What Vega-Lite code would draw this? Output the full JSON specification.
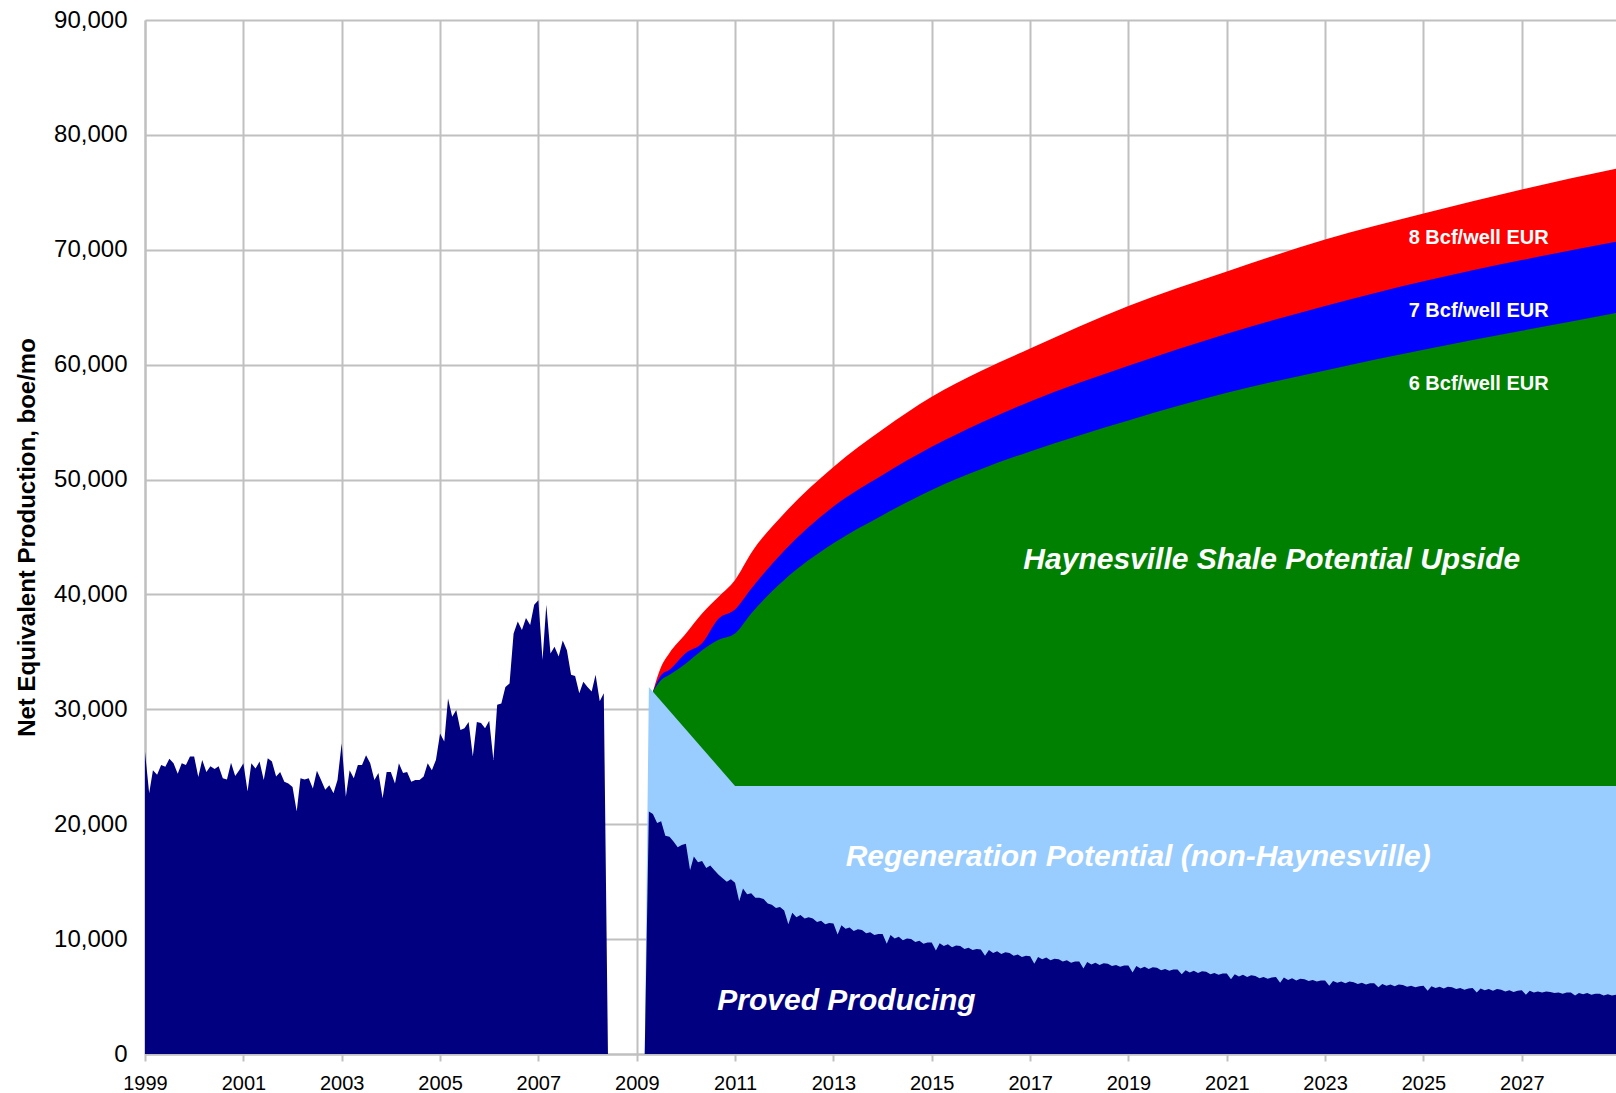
{
  "$schema": "https://vega.github.io/schema/vega-lite/v6.json",
  "width": 1471,
  "height": 1034,
  "autosize": {"type": "none"},
  "padding": {"left": 145, "top": 20, "right": 0, "bottom": 39},
  "background": "white",
  "config": {"view": {"stroke": null}, "font": "Liberation Sans"},
  "datasets": {
    "r8": [
      {"d": "2009-05", "v": 31540}, {"d": "2009-07", "v": 33700}, {"d": "2009-09", "v": 34900},
      {"d": "2010-01", "v": 36600}, {"d": "2010-05", "v": 38350}, {"d": "2010-09", "v": 39800},
      {"d": "2011-01", "v": 41250}, {"d": "2011-05", "v": 43600}, {"d": "2012-01", "v": 47050},
      {"d": "2013-01", "v": 51100}, {"d": "2014-01", "v": 54350},
      {"d": "2015-01", "v": 57200}, {"d": "2016-01", "v": 59450}, {"d": "2017-01", "v": 61400}, {"d": "2019-01", "v": 65100},
      {"d": "2021-01", "v": 68100}, {"d": "2023-01", "v": 70900}, {"d": "2025-01", "v": 73150},
      {"d": "2027-01", "v": 75250}, {"d": "2028-12", "v": 77050}
    ],
    "b7": [
      {"d": "2009-05", "v": 31540}, {"d": "2009-07", "v": 32990}, {"d": "2009-09", "v": 33450},
      {"d": "2010-01", "v": 34900}, {"d": "2010-05", "v": 35750}, {"d": "2010-09", "v": 37900},
      {"d": "2011-01", "v": 38700}, {"d": "2011-05", "v": 40500}, {"d": "2012-01", "v": 43800},
      {"d": "2013-01", "v": 47650}, {"d": "2014-01", "v": 50400},
      {"d": "2015-01", "v": 52850}, {"d": "2016-01", "v": 54950}, {"d": "2017-01", "v": 56800}, {"d": "2019-01", "v": 59900},
      {"d": "2021-01", "v": 62700}, {"d": "2023-01", "v": 65100}, {"d": "2025-01", "v": 67250},
      {"d": "2027-01", "v": 69100}, {"d": "2028-12", "v": 70700}
    ],
    "g6": [
      {"d": "2009-05", "v": 31540}, {"d": "2009-07", "v": 32550}, {"d": "2009-09", "v": 33000},
      {"d": "2010-01", "v": 34000}, {"d": "2010-05", "v": 35150}, {"d": "2010-09", "v": 36050},
      {"d": "2011-01", "v": 36600}, {"d": "2011-05", "v": 38350}, {"d": "2012-01", "v": 41250},
      {"d": "2013-01", "v": 44450}, {"d": "2014-01", "v": 46900},
      {"d": "2015-01", "v": 49100}, {"d": "2016-01", "v": 50900}, {"d": "2017-01", "v": 52450}, {"d": "2019-01", "v": 55150},
      {"d": "2021-01", "v": 57550}, {"d": "2023-01", "v": 59500}, {"d": "2025-01", "v": 61300},
      {"d": "2027-01", "v": 62950}, {"d": "2028-12", "v": 64500}
    ],
    "regen": [
      {"d": "2009-03", "v": 0}, {"d": "2009-04", "v": 31950}, {"d": "2009-05", "v": 31540},
      {"d": "2011-01", "v": 23330}, {"d": "2028-12", "v": 23330}
    ],
    "pdp": [
      {"d":"1999-01","v":26300},{"d":"1999-02","v":22700},{"d":"1999-03","v":24700},{"d":"1999-04","v":24300},{"d":"1999-05","v":25150},{"d":"1999-06","v":25000},{"d":"1999-07","v":25700},{"d":"1999-08","v":25300},{"d":"1999-09","v":24400},{"d":"1999-10","v":25300},{"d":"1999-11","v":25150},{"d":"1999-12","v":25900},
      {"d":"2000-01","v":25900},{"d":"2000-02","v":24100},{"d":"2000-03","v":25600},{"d":"2000-04","v":24550},{"d":"2000-05","v":25050},{"d":"2000-06","v":24800},{"d":"2000-07","v":25050},{"d":"2000-08","v":24000},{"d":"2000-09","v":23900},{"d":"2000-10","v":25350},{"d":"2000-11","v":24200},{"d":"2000-12","v":24700},
      {"d":"2001-01","v":25300},{"d":"2001-02","v":22850},{"d":"2001-03","v":25300},{"d":"2001-04","v":24850},{"d":"2001-05","v":25450},{"d":"2001-06","v":23850},{"d":"2001-07","v":25750},{"d":"2001-08","v":25450},{"d":"2001-09","v":24150},{"d":"2001-10","v":24550},{"d":"2001-11","v":23700},{"d":"2001-12","v":23550},
      {"d":"2002-01","v":23250},{"d":"2002-02","v":21100},{"d":"2002-03","v":24000},{"d":"2002-04","v":23900},{"d":"2002-05","v":24000},{"d":"2002-06","v":23100},{"d":"2002-07","v":24650},{"d":"2002-08","v":23850},{"d":"2002-09","v":23000},{"d":"2002-10","v":23400},{"d":"2002-11","v":22700},{"d":"2002-12","v":23850},
      {"d":"2003-01","v":27050},{"d":"2003-02","v":22400},{"d":"2003-03","v":24700},{"d":"2003-04","v":24000},{"d":"2003-05","v":25150},{"d":"2003-06","v":25150},{"d":"2003-07","v":26000},{"d":"2003-08","v":25300},{"d":"2003-09","v":23850},{"d":"2003-10","v":24450},{"d":"2003-11","v":22250},{"d":"2003-12","v":24550},
      {"d":"2004-01","v":24550},{"d":"2004-02","v":23550},{"d":"2004-03","v":25300},{"d":"2004-04","v":24450},{"d":"2004-05","v":24550},{"d":"2004-06","v":23700},{"d":"2004-07","v":23850},{"d":"2004-08","v":23850},{"d":"2004-09","v":24150},{"d":"2004-10","v":25300},{"d":"2004-11","v":24700},{"d":"2004-12","v":25600},
      {"d":"2005-01","v":27900},{"d":"2005-02","v":27200},{"d":"2005-03","v":30950},{"d":"2005-04","v":29350},{"d":"2005-05","v":29950},{"d":"2005-06","v":28200},{"d":"2005-07","v":28350},{"d":"2005-08","v":28900},{"d":"2005-09","v":25900},{"d":"2005-10","v":28900},{"d":"2005-11","v":28800},{"d":"2005-12","v":28350},
      {"d":"2006-01","v":29000},{"d":"2006-02","v":25600},{"d":"2006-03","v":30400},{"d":"2006-04","v":30500},{"d":"2006-05","v":31950},{"d":"2006-06","v":32250},{"d":"2006-07","v":36600},{"d":"2006-08","v":37650},{"d":"2006-09","v":36900},{"d":"2006-10","v":37950},{"d":"2006-11","v":37350},{"d":"2006-12","v":39100},
      {"d":"2007-01","v":39500},{"d":"2007-02","v":34300},{"d":"2007-03","v":39100},{"d":"2007-04","v":34850},{"d":"2007-05","v":35450},{"d":"2007-06","v":34600},{"d":"2007-07","v":36000},{"d":"2007-08","v":35150},{"d":"2007-09","v":33000},{"d":"2007-10","v":32900},{"d":"2007-11","v":31400},{"d":"2007-12","v":32400},
      {"d":"2008-01","v":31950},{"d":"2008-02","v":31550},{"d":"2008-03","v":33000},{"d":"2008-04","v":30700},{"d":"2008-05","v":31400},{"d":"2008-06","v":0},{"d":"2008-07","v":0},{"d":"2008-08","v":0},{"d":"2008-09","v":0},{"d":"2008-10","v":0},{"d":"2008-11","v":0},{"d":"2008-12","v":0},
      {"d":"2009-01","v":0},{"d":"2009-02","v":0},{"d":"2009-03","v":0},{"d":"2009-04","v":21100},{"d":"2009-05","v":20900},{"d":"2009-06","v":20100},{"d":"2009-07","v":20250},{"d":"2009-08","v":19000},{"d":"2009-09","v":18900},{"d":"2009-10","v":18500},{"d":"2009-11","v":18000},{"d":"2009-12","v":18200},
      {"d":"2010-01","v":18300},{"d":"2010-02","v":16000},{"d":"2010-03","v":17200},{"d":"2010-04","v":16700},{"d":"2010-05","v":16800},{"d":"2010-06","v":16200},{"d":"2010-07","v":16400},{"d":"2010-08","v":16000},{"d":"2010-09","v":15600},{"d":"2010-10","v":15300},{"d":"2010-11","v":15000},{"d":"2010-12","v":15200},
      {"d":"2011-01","v":14900},{"d":"2011-02","v":13300},{"d":"2011-03","v":14400},{"d":"2011-04","v":13900},{"d":"2011-05","v":14000},{"d":"2011-06","v":13600},{"d":"2011-07","v":13600},{"d":"2011-08","v":13500},{"d":"2011-09","v":13100},{"d":"2011-10","v":13000},{"d":"2011-11","v":12700},{"d":"2011-12","v":12800},
      {"d":"2012-01","v":12500},{"d":"2012-02","v":11300},{"d":"2012-03","v":12300},{"d":"2012-04","v":11900},{"d":"2012-05","v":12100},{"d":"2012-06","v":11800},{"d":"2012-07","v":11900},{"d":"2012-08","v":11800},{"d":"2012-09","v":11500},{"d":"2012-10","v":11600},{"d":"2012-11","v":11300},{"d":"2012-12","v":11400},
      {"d":"2013-01","v":11350},{"d":"2013-02","v":10400},{"d":"2013-03","v":11200},{"d":"2013-04","v":10900},{"d":"2013-05","v":11000},{"d":"2013-06","v":10700},{"d":"2013-07","v":10850},{"d":"2013-08","v":10800},{"d":"2013-09","v":10500},{"d":"2013-10","v":10600},{"d":"2013-11","v":10350},{"d":"2013-12","v":10450},
      {"d":"2014-01","v":10450},{"d":"2014-02","v":9600},{"d":"2014-03","v":10350},{"d":"2014-04","v":10050},{"d":"2014-05","v":10200},{"d":"2014-06","v":9900},{"d":"2014-07","v":10050},{"d":"2014-08","v":10000},{"d":"2014-09","v":9750},{"d":"2014-10","v":9850},{"d":"2014-11","v":9600},{"d":"2014-12","v":9700},
      {"d":"2015-01","v":9700},{"d":"2015-02","v":9000},{"d":"2015-03","v":9650},{"d":"2015-04","v":9400},{"d":"2015-05","v":9550},{"d":"2015-06","v":9300},{"d":"2015-07","v":9450},{"d":"2015-08","v":9400},{"d":"2015-09","v":9150},{"d":"2015-10","v":9250},{"d":"2015-11","v":9050},{"d":"2015-12","v":9150},
      {"d":"2016-01","v":9100},{"d":"2016-02","v":8550},{"d":"2016-03","v":9050},{"d":"2016-04","v":8800},{"d":"2016-05","v":8950},{"d":"2016-06","v":8700},{"d":"2016-07","v":8850},{"d":"2016-08","v":8800},{"d":"2016-09","v":8550},{"d":"2016-10","v":8650},{"d":"2016-11","v":8450},{"d":"2016-12","v":8550},
      {"d":"2017-01","v":8500},{"d":"2017-02","v":7850},{"d":"2017-03","v":8450},{"d":"2017-04","v":8250},{"d":"2017-05","v":8400},{"d":"2017-06","v":8150},{"d":"2017-07","v":8300},{"d":"2017-08","v":8250},{"d":"2017-09","v":8050},{"d":"2017-10","v":8150},{"d":"2017-11","v":7950},{"d":"2017-12","v":8050},
      {"d":"2018-01","v":8050},{"d":"2018-02","v":7450},{"d":"2018-03","v":8000},{"d":"2018-04","v":7800},{"d":"2018-05","v":7950},{"d":"2018-06","v":7750},{"d":"2018-07","v":7900},{"d":"2018-08","v":7850},{"d":"2018-09","v":7650},{"d":"2018-10","v":7750},{"d":"2018-11","v":7600},{"d":"2018-12","v":7700},
      {"d":"2019-01","v":7700},{"d":"2019-02","v":7100},{"d":"2019-03","v":7650},{"d":"2019-04","v":7450},{"d":"2019-05","v":7600},{"d":"2019-06","v":7400},{"d":"2019-07","v":7550},{"d":"2019-08","v":7500},{"d":"2019-09","v":7300},{"d":"2019-10","v":7400},{"d":"2019-11","v":7250},{"d":"2019-12","v":7350},
      {"d":"2020-01","v":7350},{"d":"2020-02","v":6950},{"d":"2020-03","v":7300},{"d":"2020-04","v":7100},{"d":"2020-05","v":7250},{"d":"2020-06","v":7050},{"d":"2020-07","v":7200},{"d":"2020-08","v":7150},{"d":"2020-09","v":6950},{"d":"2020-10","v":7050},{"d":"2020-11","v":6900},{"d":"2020-12","v":7000},
      {"d":"2021-01","v":7000},{"d":"2021-02","v":6500},{"d":"2021-03","v":6950},{"d":"2021-04","v":6750},{"d":"2021-05","v":6900},{"d":"2021-06","v":6700},{"d":"2021-07","v":6850},{"d":"2021-08","v":6800},{"d":"2021-09","v":6600},{"d":"2021-10","v":6700},{"d":"2021-11","v":6550},{"d":"2021-12","v":6650},
      {"d":"2022-01","v":6700},{"d":"2022-02","v":6200},{"d":"2022-03","v":6650},{"d":"2022-04","v":6450},{"d":"2022-05","v":6600},{"d":"2022-06","v":6400},{"d":"2022-07","v":6550},{"d":"2022-08","v":6500},{"d":"2022-09","v":6350},{"d":"2022-10","v":6450},{"d":"2022-11","v":6300},{"d":"2022-12","v":6400},
      {"d":"2023-01","v":6400},{"d":"2023-02","v":5950},{"d":"2023-03","v":6350},{"d":"2023-04","v":6200},{"d":"2023-05","v":6300},{"d":"2023-06","v":6150},{"d":"2023-07","v":6300},{"d":"2023-08","v":6250},{"d":"2023-09","v":6100},{"d":"2023-10","v":6200},{"d":"2023-11","v":6050},{"d":"2023-12","v":6150},
      {"d":"2024-01","v":6150},{"d":"2024-02","v":5800},{"d":"2024-03","v":6100},{"d":"2024-04","v":5950},{"d":"2024-05","v":6050},{"d":"2024-06","v":5900},{"d":"2024-07","v":6050},{"d":"2024-08","v":6000},{"d":"2024-09","v":5850},{"d":"2024-10","v":5950},{"d":"2024-11","v":5800},{"d":"2024-12","v":5900},
      {"d":"2025-01","v":5950},{"d":"2025-02","v":5500},{"d":"2025-03","v":5900},{"d":"2025-04","v":5750},{"d":"2025-05","v":5850},{"d":"2025-06","v":5700},{"d":"2025-07","v":5850},{"d":"2025-08","v":5800},{"d":"2025-09","v":5650},{"d":"2025-10","v":5750},{"d":"2025-11","v":5600},{"d":"2025-12","v":5700},
      {"d":"2026-01","v":5750},{"d":"2026-02","v":5350},{"d":"2026-03","v":5700},{"d":"2026-04","v":5550},{"d":"2026-05","v":5650},{"d":"2026-06","v":5500},{"d":"2026-07","v":5650},{"d":"2026-08","v":5600},{"d":"2026-09","v":5450},{"d":"2026-10","v":5550},{"d":"2026-11","v":5400},{"d":"2026-12","v":5500},
      {"d":"2027-01","v":5550},{"d":"2027-02","v":5150},{"d":"2027-03","v":5500},{"d":"2027-04","v":5350},{"d":"2027-05","v":5450},{"d":"2027-06","v":5350},{"d":"2027-07","v":5450},{"d":"2027-08","v":5400},{"d":"2027-09","v":5300},{"d":"2027-10","v":5350},{"d":"2027-11","v":5250},{"d":"2027-12","v":5350},
      {"d":"2028-01","v":5350},{"d":"2028-02","v":5100},{"d":"2028-03","v":5300},{"d":"2028-04","v":5200},{"d":"2028-05","v":5300},{"d":"2028-06","v":5150},{"d":"2028-07","v":5250},{"d":"2028-08","v":5250},{"d":"2028-09","v":5100},{"d":"2028-10","v":5200},{"d":"2028-11","v":5100},{"d":"2028-12","v":5150}
    ],
    "bigLabels": [
      {"d": "2021-12-01", "v": 43000, "label": "Haynesville Shale Potential Upside"},
      {"d": "2019-03-15", "v": 17150, "label": "Regeneration Potential (non-Haynesville)"},
      {"d": "2013-04-08", "v": 4600, "label": "Proved Producing"}
    ],
    "smallLabels": [
      {"d": "2026-02-15", "v": 71000, "label": "8 Bcf/well EUR"},
      {"d": "2026-02-15", "v": 64650, "label": "7 Bcf/well EUR"},
      {"d": "2026-02-15", "v": 58300, "label": "6 Bcf/well EUR"}
    ]
  },
  "encoding": {
    "x": {
      "field": "d",
      "type": "temporal",
      "title": null,
      "scale": {
        "type": "utc",
        "domain": [
          {"year": 1999, "month": 1, "date": 1, "utc": true},
          {"year": 2028, "month": 12, "date": 1, "utc": true}
        ]
      },
      "axis": {
        "values": [
          {"year": 1999, "utc": true}, {"year": 2001, "utc": true}, {"year": 2003, "utc": true},
          {"year": 2005, "utc": true}, {"year": 2007, "utc": true}, {"year": 2009, "utc": true},
          {"year": 2011, "utc": true}, {"year": 2013, "utc": true}, {"year": 2015, "utc": true},
          {"year": 2017, "utc": true}, {"year": 2019, "utc": true}, {"year": 2021, "utc": true},
          {"year": 2023, "utc": true}, {"year": 2025, "utc": true}, {"year": 2027, "utc": true}
        ],
        "format": "%Y",
        "formatType": "utc",
        "grid": true,
        "gridColor": "#C0C0C0",
        "gridWidth": 2,
        "gridOpacity": 1,
        "domainColor": "#C0C0C0",
        "domainWidth": 2,
        "tickColor": "#C0C0C0",
        "tickWidth": 2,
        "tickSize": 7,
        "labelFont": "Liberation Sans",
        "labelFontSize": 20,
        "labelColor": "#000000",
        "labelPadding": 12,
        "labelFlush": false,
        "labelOverlap": false
      }
    },
    "y": {
      "field": "v",
      "type": "quantitative",
      "title": "Net Equivalent Production, boe/mo",
      "scale": {"domain": [0, 90000], "nice": false, "zero": true},
      "axis": {
        "values": [0, 10000, 20000, 30000, 40000, 50000, 60000, 70000, 80000, 90000],
        "format": ",d",
        "grid": true,
        "gridColor": "#C0C0C0",
        "gridWidth": 2,
        "gridOpacity": 1,
        "domainColor": "#C0C0C0",
        "domainWidth": 2,
        "ticks": false,
        "tickSize": 0,
        "labelFont": "Liberation Sans",
        "labelFontSize": 24,
        "labelColor": "#000000",
        "labelPadding": 18,
        "titleFont": "Liberation Sans",
        "titleFontSize": 24,
        "titleFontWeight": "bold",
        "titleColor": "#000000",
        "titlePadding": 14
      }
    }
  },
  "layer": [
    {"data": {"name": "r8"}, "mark": {"type": "area", "color": "#FF0000", "interpolate": "monotone"}},
    {"data": {"name": "b7"}, "mark": {"type": "area", "color": "#0000FF", "interpolate": "monotone"}},
    {"data": {"name": "g6"}, "mark": {"type": "area", "color": "#008000", "interpolate": "monotone"}},
    {"data": {"name": "regen"}, "mark": {"type": "area", "color": "#99CCFF"}},
    {"data": {"name": "pdp"}, "mark": {"type": "area", "color": "#000080"}},
    {
      "data": {"name": "bigLabels"},
      "mark": {"type": "text", "color": "#FFFFFF", "font": "Liberation Sans", "fontSize": 30, "fontWeight": "bold", "fontStyle": "italic", "align": "center", "baseline": "middle"},
      "encoding": {"text": {"field": "label", "type": "nominal"}}
    },
    {
      "data": {"name": "smallLabels"},
      "mark": {"type": "text", "color": "#FFFFFF", "font": "Liberation Sans", "fontSize": 20, "fontWeight": "bold", "align": "center", "baseline": "middle"},
      "encoding": {"text": {"field": "label", "type": "nominal"}}
    }
  ]
}
